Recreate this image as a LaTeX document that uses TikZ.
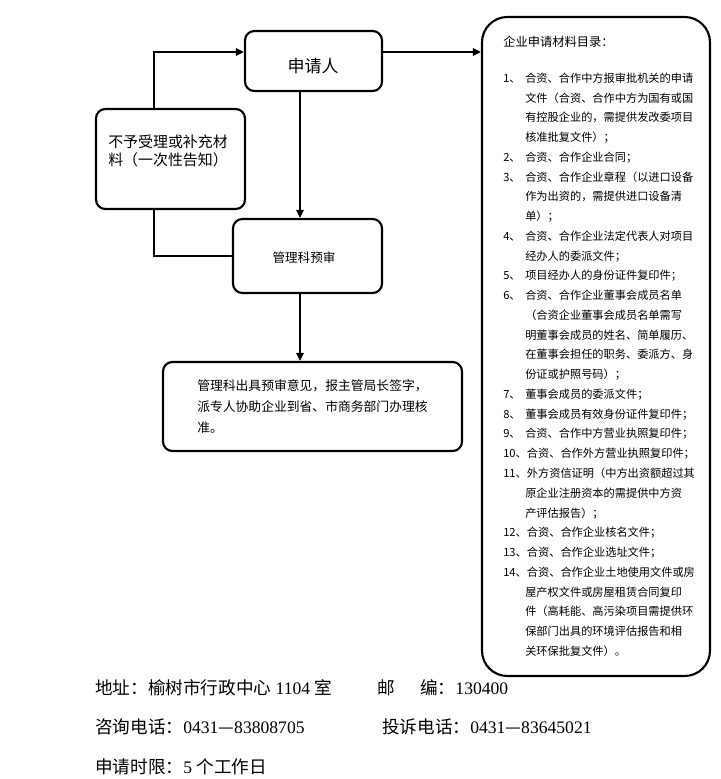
\documentclass[tikz,border=0pt]{standalone}
\usepackage{fontspec}
\setmainfont{Liberation Serif}
\newfontfamily\cjk{Noto Sans CJK SC}
\usetikzlibrary{arrows.meta,fit}
\newcommand\Lline[4]{\node[lst] (#1) at (#2,{82.3+19.76*#3}) {#4};}
\begin{document}
\begin{tikzpicture}[x=0.75pt,y=-0.75pt,
  box/.style={draw,line width=1.6pt,rounded corners=7pt,inner sep=0pt},
  arr/.style={line width=1.5pt,-{Triangle[length=6pt,width=5.5pt]}},
  ln/.style={line width=1.5pt},
  lst/.style={font=\cjk\fontsize{8.4}{10}\selectfont,inner sep=0pt,anchor=base west},
  foot/.style={font=\fontsize{13.2}{16}\selectfont,inner sep=0pt,anchor=base west}
]
\useasboundingbox (0,0) rectangle (721,779);

% boxes
\node[box,fit={(245,31)(382,91)}] (app) {};
\node[font=\cjk\fontsize{12.75}{15}\selectfont,inner sep=0pt] (appt) at (313,66) {申请人};

\node[box,fit={(96,109)(245,209)}] (nf) {};
\node[font=\cjk\fontsize{11.2}{13.5}\selectfont,align=left,inner sep=0pt,anchor=base west] (nft) at (108,165.7) {不予受理或补充材\\料（一次性告知）};

\node[box,fit={(233,219)(382,293)}] (pre) {};
\node[font=\cjk\fontsize{9.4}{11}\selectfont,inner sep=0pt] (pret) at (304,258) {管理科预审};

\node[box,fit={(163,362)(462,451)}] (fin) {};
\node[font=\cjk\fontsize{9.6}{15.75}\selectfont,align=left,inner sep=0pt,anchor=base west] (fint) at (197,432) {管理科出具预审意见，报主管局长签字，\\派专人协助企业到省、市商务部门办理核\\准。};

\node[box,rounded corners=19pt,fit={(482,17)(710,676)}] (rb) {};
\node[font=\cjk\fontsize{9.2}{11}\selectfont,inner sep=0pt,anchor=base west] (rbt) at (503,46.7) {企业申请材料目录：};

% list
\Lline{n1}{503}{0}{1、}
\Lline{t0}{525}{0}{合资、合作中方报审批机关的申请}
\Lline{t1}{525}{1}{文件（合资、合作中方为国有或国}
\Lline{t2}{525}{2}{有控股企业的，需提供发改委项目}
\Lline{t3}{525}{3}{核准批复文件）；}
\Lline{n2}{503}{4}{2、}
\Lline{t4}{525}{4}{合资、合作企业合同；}
\Lline{n3}{503}{5}{3、}
\Lline{t5}{525}{5}{合资、合作企业章程（以进口设备}
\Lline{t6}{525}{6}{作为出资的，需提供进口设备清}
\Lline{t7}{525}{7}{单）；}
\Lline{n4}{503}{8}{4、}
\Lline{t8}{525}{8}{合资、合作企业法定代表人对项目}
\Lline{t9}{525}{9}{经办人的委派文件；}
\Lline{n5}{503}{10}{5、}
\Lline{t10}{525}{10}{项目经办人的身份证件复印件；}
\Lline{n6}{503}{11}{6、}
\Lline{t11}{525}{11}{合资、合作企业董事会成员名单}
\Lline{t12}{525}{12}{（合资企业董事会成员名单需写}
\Lline{t13}{525}{13}{明董事会成员的姓名、简单履历、}
\Lline{t14}{525}{14}{在董事会担任的职务、委派方、身}
\Lline{t15}{525}{15}{份证或护照号码）；}
\Lline{n7}{503}{16}{7、}
\Lline{t16}{525}{16}{董事会成员的委派文件；}
\Lline{n8}{503}{17}{8、}
\Lline{t17}{525}{17}{董事会成员有效身份证件复印件；}
\Lline{n9}{503}{18}{9、}
\Lline{t18}{525}{18}{合资、合作中方营业执照复印件；}
\Lline{n10}{503}{19}{10、合资、合作外方营业执照复印件；}
\Lline{n11}{503}{20}{11、外方资信证明（中方出资额超过其}
\Lline{t21}{525}{21}{原企业注册资本的需提供中方资}
\Lline{t22}{525}{22}{产评估报告）；}
\Lline{n12}{503}{23}{12、合资、合作企业核名文件；}
\Lline{n13}{503}{24}{13、合资、合作企业选址文件；}
\Lline{n14}{503}{25}{14、合资、合作企业土地使用文件或房}
\Lline{t26}{525}{26}{屋产权文件或房屋租赁合同复印}
\Lline{t27}{525}{27}{件（高耗能、高污染项目需提供环}
\Lline{t28}{525}{28}{保部门出具的环境评估报告和相}
\Lline{t29}{525}{29}{关环保批复文件）。}

% connectors
\coordinate (ry) at (0,52);
\coordinate (lx) at (154,0);
\coordinate (mx) at (300,0);
\draw[arr] (app.east |- ry) -- (rb.west |- ry);
\draw[arr] (lx |- nf.north) -- (lx |- ry) -- (app.west |- ry);
\draw[ln] (pre.west) -- (lx |- pre.west) -- (lx |- nf.south);
\draw[arr] (mx |- app.south) -- (mx |- pre.north);
\draw[arr] (mx |- pre.south) -- (mx |- fin.north);

% footer
\node[foot] (f1) at (95,694.7) {{\cjk 地址：榆树市行政中心} 1104 {\cjk 室}};
\node[foot] (f2) at (377,694.7) {{\cjk 邮}};
\node[foot] (f3) at (420,694.7) {{\cjk 编：}130400};
\node[foot] (f4) at (95,733.7) {{\cjk 咨询电话：}0431{\cjk —}83808705};
\node[foot] (f5) at (382,733.7) {{\cjk 投诉电话：}0431{\cjk —}83645021};
\node[foot] (f6) at (95,773.7) {{\cjk 申请时限：}5 {\cjk 个工作日}};
\end{tikzpicture}
\end{document}
